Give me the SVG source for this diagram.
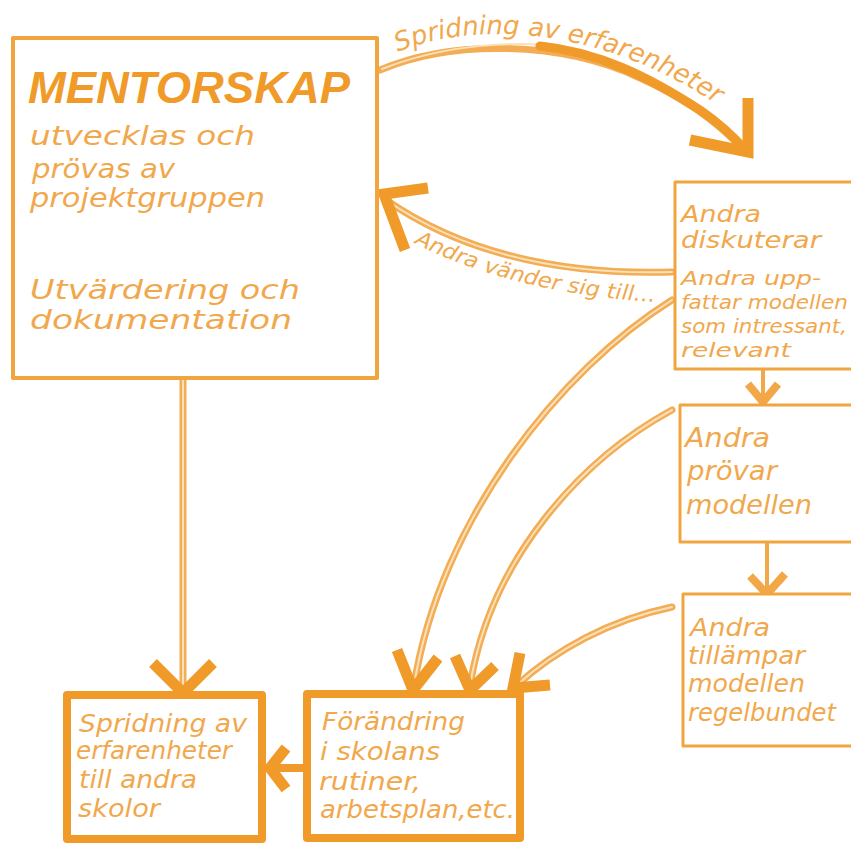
<svg xmlns="http://www.w3.org/2000/svg" width="851" height="843" viewBox="0 0 851 843">
  <defs>
    <style>
      .box { fill: #ffffff; stroke: #f1a53e; stroke-linejoin: round; }
      .thin { stroke-width: 4; }
      .thick { stroke-width: 8; stroke: #f09a2a; }
      .hand { font-family: "DejaVu Sans Condensed", "Liberation Sans", sans-serif; font-style: italic; fill: #f1a84c; }
      .title { font-family: "Liberation Sans", "DejaVu Sans", sans-serif; font-style: italic; font-weight: bold; fill: #f09a2a; }
      .road { fill: none; stroke: #f2ad55; stroke-width: 7; stroke-linecap: round; }
      .roadcore { fill: none; stroke: #fbe0b8; stroke-width: 2; stroke-linecap: round; }
      .head { fill: none; stroke: #f09a2a; stroke-width: 11; stroke-linecap: butt; stroke-linejoin: miter; }
      .headsm { fill: none; stroke: #f2a848; stroke-width: 8; stroke-linecap: butt; stroke-linejoin: miter; }
    </style>
    <path id="topLabelPath" d="M398,52 C470,22 600,22 728,112"/>
    <path id="backLabelPath" d="M414,243 C470,272 560,298 660,302"/>
  </defs>

  <!-- connectors -->
  <g id="connectors">
    <!-- top arc: MENTORSKAP to Andra diskuterar -->
    <path class="road" d="M380,70 C450,40 560,40 640,78 C690,100 720,125 742,148"/>
    <path class="roadcore" d="M382,69 C450,42 520,42 560,46"/>
    <path d="M540,46 C600,52 650,78 700,110 C720,124 735,138 745,150" fill="none" stroke="#f09a2a" stroke-width="9" stroke-linecap="round"/>
    <path class="head" d="M748,98 L748,152 L690,140"/>

    <!-- back arc: Andra diskuterar to MENTORSKAP -->
    <path class="road" d="M672,272 C570,275 470,258 386,200"/>
    <path class="roadcore" d="M672,272 C570,275 470,258 386,200"/>
    <path class="head" d="M428,188 L384,194 L405,250"/>

    <!-- MENTORSKAP down to Spridning -->
    <path class="road" d="M183,380 L183,688"/>
    <path class="roadcore" d="M183,380 L183,688"/>
    <path class="head" d="M153,663 L183,693 L213,663"/>

    <!-- Andra diskuterar to Andra prövar -->
    <path d="M763,370 L763,402" stroke="#f2a848" stroke-width="4" fill="none"/>
    <path class="headsm" d="M748,384 L763,402 L778,384"/>

    <!-- Andra prövar to Andra tillämpar -->
    <path d="M767,543 L767,593" stroke="#f2a848" stroke-width="4" fill="none"/>
    <path class="headsm" d="M750,576 L767,594 L785,574"/>

    <!-- three arcs into Förändring -->
    <path class="road" d="M672,300 C560,370 440,520 414,686"/>
    <path class="roadcore" d="M672,300 C560,370 440,520 414,686"/>
    <path class="head" d="M397,650 L413,690 L438,658"/>

    <path class="road" d="M672,410 C580,460 490,560 470,686"/>
    <path class="roadcore" d="M672,410 C580,460 490,560 470,686"/>
    <path class="head" d="M455,656 L470,690 L495,666"/>

    <path class="road" d="M672,607 C610,620 555,650 516,686"/>
    <path class="roadcore" d="M672,607 C610,620 555,650 516,686"/>
    <path class="head" d="M520,653 L513,688 L550,685"/>

    <!-- Förändring to Spridning -->
    <path d="M307,768 L272,768" stroke="#f09a2a" stroke-width="8" fill="none"/>
    <path class="head" d="M286,748 L270,768 L286,789"/>

    <!-- curved labels -->
    <text class="hand" font-size="26"><textPath href="#topLabelPath" textLength="335" lengthAdjust="spacingAndGlyphs">Spridning av erfarenheter</textPath></text>
    <text class="hand" font-size="21"><textPath href="#backLabelPath" textLength="250" lengthAdjust="spacingAndGlyphs">Andra vänder sig till...</textPath></text>
  </g>

  <!-- MENTORSKAP -->
  <g id="mentorskap">
    <rect class="box thin" x="13" y="38" width="364" height="340"/>
    <text class="title" x="28" y="103" font-size="44" textLength="322" lengthAdjust="spacingAndGlyphs">MENTORSKAP</text>
    <text class="hand" font-size="26">
      <tspan x="30" y="145" textLength="225" lengthAdjust="spacingAndGlyphs">utvecklas och</tspan>
      <tspan x="32" y="178" textLength="143" lengthAdjust="spacingAndGlyphs">prövas av</tspan>
      <tspan x="30" y="207" textLength="235" lengthAdjust="spacingAndGlyphs">projektgruppen</tspan>
      <tspan x="30" y="299" textLength="270" lengthAdjust="spacingAndGlyphs">Utvärdering och</tspan>
      <tspan x="30" y="329" textLength="262" lengthAdjust="spacingAndGlyphs">dokumentation</tspan>
    </text>
  </g>

  <!-- Andra diskuterar -->
  <g id="andra-diskuterar">
    <rect class="box" stroke-width="3" x="675" y="182" width="190" height="187"/>
    <text class="hand" font-size="23">
      <tspan x="681" y="222" textLength="80" lengthAdjust="spacingAndGlyphs">Andra</tspan>
      <tspan x="681" y="248" textLength="140" lengthAdjust="spacingAndGlyphs">diskuterar</tspan>
    </text>
    <text class="hand" font-size="20">
      <tspan x="681" y="285" textLength="140" lengthAdjust="spacingAndGlyphs">Andra upp-</tspan>
      <tspan x="681" y="309" textLength="167" lengthAdjust="spacingAndGlyphs">fattar modellen</tspan>
      <tspan x="681" y="333" textLength="166" lengthAdjust="spacingAndGlyphs">som intressant,</tspan>
      <tspan x="681" y="357" textLength="110" lengthAdjust="spacingAndGlyphs">relevant</tspan>
    </text>
  </g>

  <!-- Andra prövar modellen -->
  <g id="andra-provar">
    <rect class="box" stroke-width="3" x="680" y="405" width="185" height="137"/>
    <text class="hand" font-size="27">
      <tspan x="685" y="447" textLength="85" lengthAdjust="spacingAndGlyphs">Andra</tspan>
      <tspan x="687" y="480" textLength="90" lengthAdjust="spacingAndGlyphs">prövar</tspan>
      <tspan x="686" y="514" textLength="126" lengthAdjust="spacingAndGlyphs">modellen</tspan>
    </text>
  </g>

  <!-- Andra tillämpar modellen regelbundet -->
  <g id="andra-tillampar">
    <rect class="box" stroke-width="3" x="683" y="594" width="185" height="152"/>
    <text class="hand" font-size="24">
      <tspan x="690" y="636" textLength="80" lengthAdjust="spacingAndGlyphs">Andra</tspan>
      <tspan x="688" y="664" textLength="117" lengthAdjust="spacingAndGlyphs">tillämpar</tspan>
      <tspan x="688" y="692" textLength="117" lengthAdjust="spacingAndGlyphs">modellen</tspan>
      <tspan x="688" y="721" textLength="148" lengthAdjust="spacingAndGlyphs">regelbundet</tspan>
    </text>
  </g>

  <!-- Spridning av erfarenheter till andra skolor -->
  <g id="spridning">
    <rect class="box thick" x="67" y="695" width="195" height="144"/>
    <text class="hand" font-size="24">
      <tspan x="79" y="732" textLength="168" lengthAdjust="spacingAndGlyphs">Spridning av</tspan>
      <tspan x="76" y="759" textLength="156" lengthAdjust="spacingAndGlyphs">erfarenheter</tspan>
      <tspan x="79" y="788" textLength="118" lengthAdjust="spacingAndGlyphs">till andra</tspan>
      <tspan x="78" y="817" textLength="82" lengthAdjust="spacingAndGlyphs">skolor</tspan>
    </text>
  </g>

  <!-- Förändring i skolans rutiner -->
  <g id="forandring">
    <rect class="box thick" x="307" y="694" width="213" height="144"/>
    <text class="hand" font-size="25">
      <tspan x="322" y="730" textLength="143" lengthAdjust="spacingAndGlyphs">Förändring</tspan>
      <tspan x="320" y="760" textLength="120" lengthAdjust="spacingAndGlyphs">i skolans</tspan>
      <tspan x="319" y="790" textLength="102" lengthAdjust="spacingAndGlyphs">rutiner,</tspan>
      <tspan x="320" y="818" textLength="195" lengthAdjust="spacingAndGlyphs">arbetsplan,etc.</tspan>
    </text>
  </g>
</svg>
